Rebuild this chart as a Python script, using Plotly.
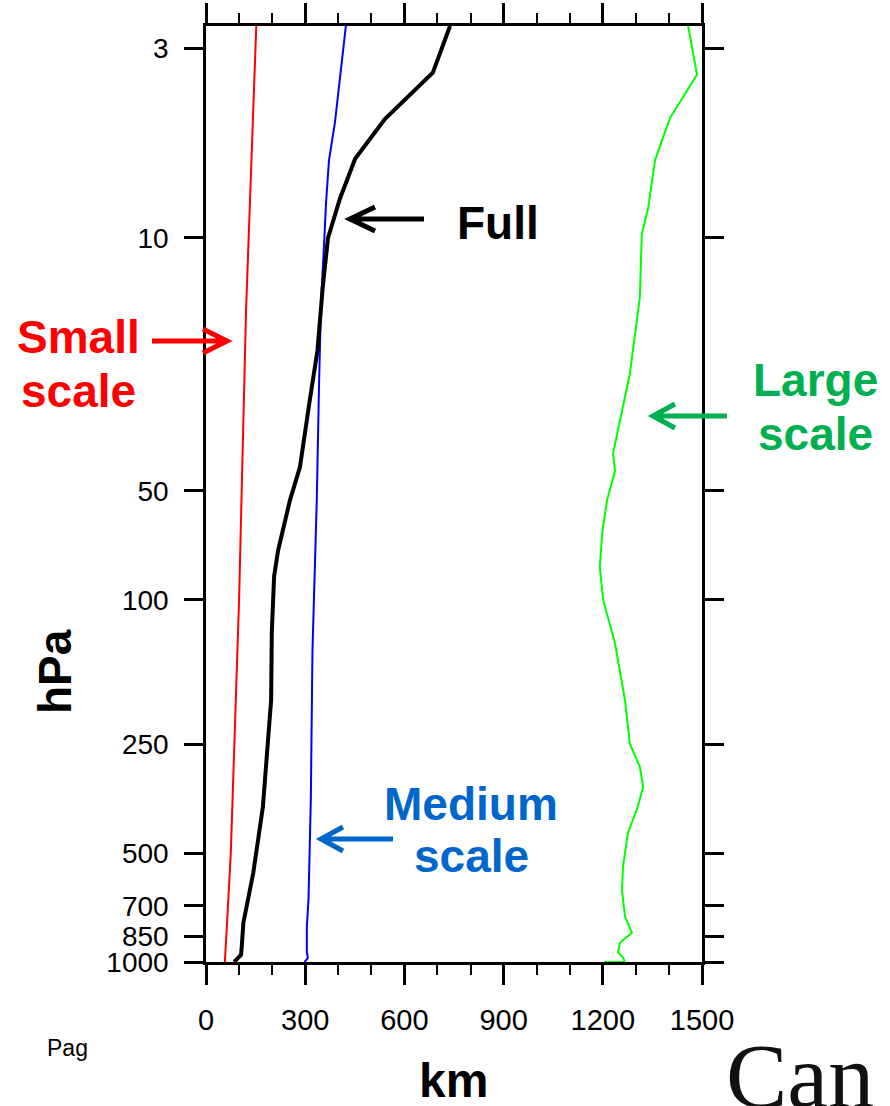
import plotly.graph_objects as go

# ---------------- data ----------------
full_p = [2.6, 3.5, 4.7, 6.05, 7.8, 10, 13.7, 15, 20.5, 28, 43, 53, 73, 86, 123, 189, 243, 373, 567, 780, 910, 955, 1000]
full_km = [738, 686, 541, 451, 405, 369, 353, 349, 337, 314, 284, 254, 218, 206, 199, 197, 188, 172, 143, 113, 108, 106, 85]

small_p = [2.6, 16, 100, 250, 500, 800, 1000]
small_km = [152, 121, 100, 86, 75, 63, 57]

medium_p = [2.6, 4.8, 6.1, 8, 10, 15, 25, 53, 138, 357, 670, 800, 940, 975, 1000]
medium_km = [423, 390, 372, 363, 358, 348, 342, 335, 322, 317, 310, 305, 305, 308, 298]

large_p = [2.6, 3.54, 4.67, 6.1, 8.3, 9.75, 14.6, 23.7, 39.4, 44, 53, 65.6, 81, 100, 132, 189, 250,
           289, 328, 372, 440, 546, 633, 748, 830, 885, 940, 973, 1000, 1000]
large_km = [1458, 1485, 1403, 1358, 1337, 1318, 1312, 1282, 1231, 1237, 1213, 1198, 1191, 1201, 1237, 1267, 1282,
            1312, 1322, 1306, 1276, 1261, 1258, 1267, 1288, 1252, 1246, 1261, 1267, 1205]

y_tickvals = [3, 10, 50, 100, 250, 500, 700, 850, 1000]
y_ticktext = ["3", "10", "50", "100", "250", "500", "700", "850", "1000"]
x_tickvals = [0, 300, 600, 900, 1200, 1500]

# ---------------- layout helpers (pixel -> paper) ----------------
W, H = 890, 1106
L, R, T, B = 206, 702, 26, 962


def px(x):
    return (x - L) / (R - L)


def py(y):
    return (B - y) / (B - T)


fig = go.Figure()
fig.add_trace(go.Scatter(x=small_km, y=small_p, mode="lines", line=dict(color="#ff0000", width=2), name="Small scale"))
fig.add_trace(go.Scatter(x=medium_km, y=medium_p, mode="lines", line=dict(color="#0000ff", width=2), name="Medium scale"))
fig.add_trace(go.Scatter(x=large_km, y=large_p, mode="lines", line=dict(color="#00ff00", width=2), name="Large scale"))
fig.add_trace(go.Scatter(x=full_km, y=full_p, mode="lines", line=dict(color="#000000", width=4), name="Full"))

FONT = "Liberation Sans, Arial, Helvetica, sans-serif"

fig.update_layout(
    width=W, height=H,
    margin=dict(l=L, r=W - R, t=T, b=H - B, autoexpand=False),
    paper_bgcolor="white", plot_bgcolor="white",
    showlegend=False,
    font=dict(family=FONT, color="black"),
    xaxis=dict(
        range=[0, 1500], tickvals=x_tickvals, ticks="outside", ticklen=20, tickwidth=2.5, tickcolor="black",
        showline=True, linewidth=2.5, linecolor="black", mirror="ticks", showgrid=False, zeroline=False,
        tickfont=dict(size=29, family=FONT, color="black"), ticklabelstandoff=10, automargin=False,
        minor=dict(dtick=100, ticks="outside", ticklen=10, tickwidth=2, tickcolor="black", showgrid=False),
    ),
    yaxis=dict(
        type="log", range=[3, 0.415], tickvals=y_tickvals, ticktext=y_ticktext, ticks="outside", ticklen=19,
        tickwidth=2.5, tickcolor="black", showline=True, linewidth=2.5, linecolor="black", mirror="ticks",
        showgrid=False, zeroline=False, tickfont=dict(size=28, family=FONT, color="black"), ticklabelstandoff=10,
        automargin=False,
    ),
)


def label(text, x, y, color, size=46, angle=0, family=FONT, xanchor="center", weight="bold"):
    fig.add_annotation(text=text, x=px(x), y=py(y), xref="paper", yref="paper", showarrow=False,
                       xanchor=xanchor, yanchor="middle", textangle=angle,
                       font=dict(family=family, size=size, color=color, weight=weight))


def arrow(x0, x1, y, tipdx, halfh, color):
    # shaft from x0 to x1 (tip) plus an open chevron head
    path = (f"M {px(x0)} {py(y)} L {px(x1)} {py(y)} "
            f"M {px(x1 + tipdx)} {py(y - halfh)} L {px(x1)} {py(y)} L {px(x1 + tipdx)} {py(y + halfh)}")
    fig.add_shape(type="path", path=path, xref="paper", yref="paper", line=dict(color=color, width=5))


# Full
label("Full", 498, 223, "black")
arrow(424, 350, 219, 25, 12, "black")
# Small scale
label("Small", 78, 337, "#ff0000")
label("scale", 78, 391, "#ff0000")
arrow(152, 227, 341, -24, 12, "#ff0000")
# Large scale
label("Large", 815, 380, "#00b050")
label("scale", 815, 434, "#00b050")
arrow(727, 653, 416, 22, 12, "#00b050")
# Medium scale
label("Medium", 471, 804, "#0066cc")
label("scale", 471, 856, "#0066cc")
arrow(393, 321, 839, 22, 12, "#0066cc")

# axis titles
label("hPa", 55, 672, "black", size=46, angle=-90)
label("km", 453, 1080, "black", size=48)

# slide remnants
label("Pag", 45, 1048, "black", size=23, xanchor="left", weight="normal")
label("Can", 724, 1076, "#111111", size=92, family="Liberation Serif, Times New Roman, serif", xanchor="left",
      weight="normal")

fig.write_html("out.html")
